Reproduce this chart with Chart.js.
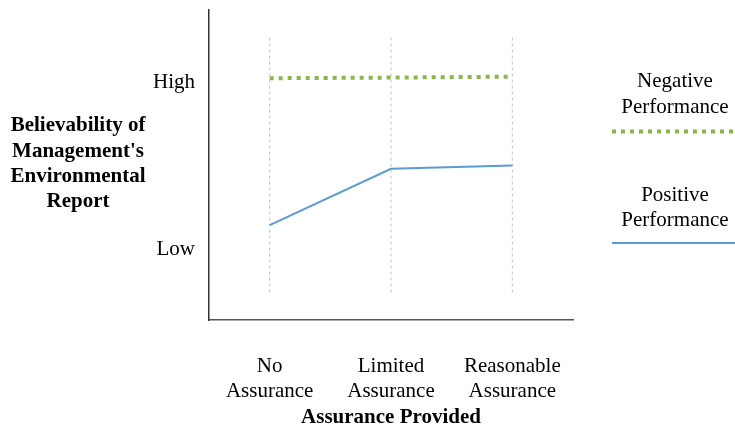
<!DOCTYPE html>
<html>
<head>
<meta charset="utf-8">
<script src="https://cdn.jsdelivr.net/npm/chart.js@4/dist/chart.umd.min.js"></script>
<style>
  html, body { margin: 0; padding: 0; background: #fff; }
  #chart { display: block; }
</style>
</head>
<body>
<canvas id="chart" width="735" height="427"></canvas>
<script>
// Data (y is an arbitrary 0-100 believability scale)
const categories = ['No Assurance', 'Limited Assurance', 'Reasonable Assurance'];
const negativeValues = [78.0, 78.2, 78.5];
const positiveValues = [30.6, 48.8, 49.8];
const yTickValues = [22.9, 76.5];
const yTickLabels = ['Low', 'High'];
const dropRange = [8.8, 91.1];
const seriesNames = [['Negative', 'Performance'], ['Positive', 'Performance']];
const yTitleLines = ['Believability of', "Management's", 'Environmental', 'Report'];
const xTitle = 'Assurance Provided';

const serif = "'Liberation Serif', 'Times New Roman', serif";
const green = '#8db54b';
const blue = '#5b9bd5';

// dashed drop lines behind each category
const dropSets = categories.map(function(c) {
    return {
        isDrop: true,
        data: [{x: c, y: dropRange[1]}, {x: c, y: dropRange[0]}],
        borderColor: '#c4c4c4',
        borderWidth: 1,
        borderDash: [3, 3],
        pointRadius: 0
    };
});

// y title on the left, legend on the right
const sideText = {
    id: 'sideText',
    afterDraw: function(chart) {
        const ctx = chart.ctx;
        ctx.save();
        ctx.fillStyle = '#000';
        ctx.textAlign = 'center';
        ctx.textBaseline = 'middle';

        ctx.font = 'bold 21px ' + serif;
        yTitleLines.forEach(function(line, i) {
            ctx.fillText(line, 78, 126 + i * 25.3);
        });

        const legendY = [[81, 107, 131.5], [195, 220, 243]];
        ctx.font = '21px ' + serif;
        seriesNames.forEach(function(name, i) {
            const ds = chart.data.datasets[i];
            const pos = legendY[i];
            ctx.fillText(name[0], 675, pos[0]);
            ctx.fillText(name[1], 675, pos[1]);
            ctx.beginPath();
            ctx.strokeStyle = ds.borderColor;
            ctx.lineWidth = ds.borderWidth;
            ctx.setLineDash(ds.borderDash || []);
            ctx.moveTo(612, pos[2]);
            ctx.lineTo(735, pos[2]);
            ctx.stroke();
        });
        ctx.restore();
    }
};

new Chart(document.getElementById('chart'), {
    type: 'line',
    data: {
        labels: categories,
        datasets: [{
            label: 'Negative Performance',
            data: negativeValues,
            borderColor: green,
            borderWidth: 4,
            borderDash: [4, 5],
            borderCapStyle: 'butt',
            pointRadius: 0,
            tension: 0
        }, {
            label: 'Positive Performance',
            data: positiveValues,
            borderColor: blue,
            borderWidth: 2,
            pointRadius: 0,
            tension: 0
        }].concat(dropSets)
    },
    options: {
        responsive: false,
        animation: false,
        layout: {
            padding: {top: 10, right: 162, bottom: 0, left: 0}
        },
        plugins: {
            legend: {display: false},
            tooltip: {enabled: false}
        },
        scales: {
            x: {
                offset: true,
                afterFit: function(scale) { scale.height = 107; },
                grid: {display: false, drawTicks: false},
                border: {display: true, color: '#555', width: 1.5},
                ticks: {
                    padding: 34,
                    color: '#000',
                    maxRotation: 0,
                    font: {family: serif, size: 21, lineHeight: 1.2},
                    callback: function(val) {
                        return this.getLabelForValue(val).split(' ');
                    }
                },
                title: {
                    display: true,
                    text: xTitle,
                    color: '#000',
                    padding: 0,
                    font: {family: serif, size: 21, weight: 'bold', lineHeight: '18px'}
                }
            },
            y: {
                min: 0,
                max: 100,
                afterFit: function(scale) {
                    scale.width = 209;
                    scale.paddingTop = 0;
                    scale.paddingBottom = 0;
                },
                afterBuildTicks: function(scale) {
                    scale.ticks = yTickValues.map(function(v) { return {value: v}; });
                },
                grid: {display: false, drawTicks: false},
                border: {display: true, color: '#333', width: 1.5},
                ticks: {
                    padding: 14,
                    color: '#000',
                    font: {family: serif, size: 21},
                    callback: function(val) {
                        return yTickLabels[yTickValues.indexOf(val)];
                    }
                }
            }
        }
    },
    plugins: [sideText]
});
</script>
</body>
</html>
